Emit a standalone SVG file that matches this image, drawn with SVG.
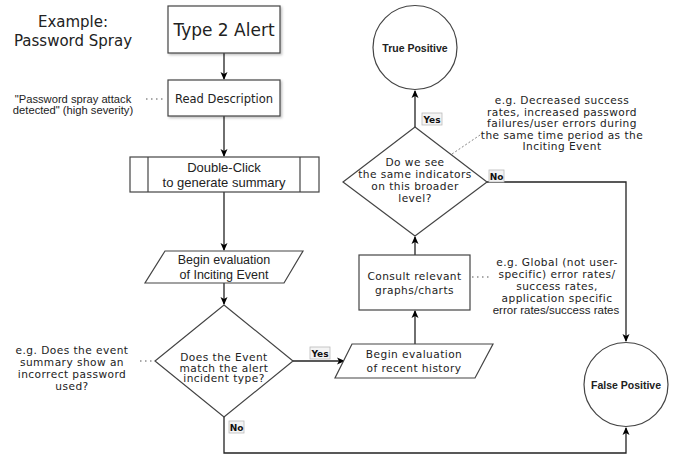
<svg xmlns="http://www.w3.org/2000/svg" width="675" height="460" viewBox="0 0 675 460">
<defs>
<marker id="ah" markerWidth="8" markerHeight="8" refX="7" refY="4" orient="auto" markerUnits="userSpaceOnUse">
<path d="M0,0.5 L8,4 L0,7.5 L2,4 Z" fill="#000"/>
</marker>
<filter id="sh" x="-10%" y="-10%" width="130%" height="130%">
<feDropShadow dx="1.5" dy="1.5" stdDeviation="1" flood-color="#000" flood-opacity="0.25"/>
</filter>
</defs>
<style>
.n{fill:#fff;stroke:#444;stroke-width:1.2}
.v{font-family:"DejaVu Sans",Verdana,sans-serif;fill:#222}
.nt{font-family:"DejaVu Sans",Verdana,sans-serif;fill:#222;font-size:10.6px;letter-spacing:0.45px}
.a{font-family:"Liberation Sans",Arial,sans-serif;fill:#222}
.c{stroke:#222;stroke-width:1.3;fill:none}
.lb{fill:#f4f4f4;stroke:#bbb;stroke-width:0.8}
.lt{font-family:"DejaVu Sans",Verdana,sans-serif;font-size:9px;font-weight:bold;fill:#111}
.dot{stroke:#555;stroke-width:1.2;stroke-dasharray:1.5 3.5;fill:none}
</style>
<rect width="675" height="460" fill="#fff"/>

<g id="title">
<text class="v" x="73" y="27" font-size="15" text-anchor="middle">Example:</text>
<text class="v" x="73" y="46" font-size="15" text-anchor="middle">Password Spray</text>
</g>

<g id="connectors">
<line class="c" x1="224" y1="53" x2="224" y2="79" marker-end="url(#ah)"/>
<line class="c" x1="224" y1="116" x2="224" y2="156" marker-end="url(#ah)"/>
<line class="c" x1="224" y1="192" x2="224" y2="250" marker-end="url(#ah)"/>
<line class="c" x1="224" y1="283" x2="224" y2="304" marker-end="url(#ah)"/>
<line class="c" x1="293" y1="361" x2="344" y2="361" marker-end="url(#ah)"/>
<line class="c" x1="415" y1="344" x2="415" y2="311" marker-end="url(#ah)"/>
<line class="c" x1="415" y1="255" x2="415" y2="237" marker-end="url(#ah)"/>
<line class="c" x1="415" y1="127" x2="415" y2="91" marker-end="url(#ah)"/>
<polyline class="c" points="487,182 626,182 626,341" marker-end="url(#ah)"/>
<polyline class="c" points="224,417 224,453 626,453 626,428" marker-end="url(#ah)"/>
<line class="dot" x1="146" y1="99" x2="164" y2="99"/>
<line class="dot" x1="140" y1="361" x2="154" y2="361"/>
<line class="dot" x1="472" y1="277" x2="490" y2="277"/>
<line stroke="#777" stroke-width="0.9" stroke-dasharray="2 2" x1="452" y1="154" x2="483" y2="133"/>
<rect class="lb" x="310" y="347" width="20" height="12"/>
<text class="lt" x="320" y="356.5" text-anchor="middle">Yes</text>
<rect class="lb" x="229" y="421" width="15" height="12"/>
<text class="lt" x="236.5" y="430.5" text-anchor="middle">No</text>
<rect class="lb" x="422" y="113" width="20" height="12"/>
<text class="lt" x="432" y="122.5" text-anchor="middle">Yes</text>
<rect class="lb" x="489" y="170" width="15" height="12"/>
<text class="lt" x="496.5" y="179.5" text-anchor="middle">No</text>
</g>

<g id="alert">
<rect class="n" x="168" y="6" width="112" height="47" filter="url(#sh)"/>
<text class="v" x="224" y="36" font-size="17" text-anchor="middle">Type 2 Alert</text>
</g>

<g id="read">
<rect class="n" x="168" y="80" width="112" height="36" filter="url(#sh)"/>
<text class="v" x="224" y="102.5" font-size="11.5" text-anchor="middle">Read Description</text>
</g>
<g id="note-read">
<text class="a" x="73" y="102.5" font-size="11.2" text-anchor="middle">"Password spray attack</text>
<text class="a" x="73" y="113.5" font-size="11.2" text-anchor="middle">detected" (high severity)</text>
</g>

<g id="doubleclick">
<rect class="n" x="130" y="157" width="189" height="35"/>
<line class="n" x1="148" y1="157" x2="148" y2="192"/>
<line class="n" x1="300" y1="157" x2="300" y2="192"/>
<text class="a" x="224" y="172" font-size="13" text-anchor="middle">Double-Click</text>
<text class="a" x="224" y="186.5" font-size="13" text-anchor="middle">to generate summary</text>
</g>

<g id="begin-inciting">
<polygon class="n" points="165,251 303,251 284,283 145,283"/>
<text class="a" x="224" y="264" font-size="12.5" text-anchor="middle">Begin evaluation</text>
<text class="a" x="224" y="279" font-size="12.5" text-anchor="middle">of Inciting Event</text>
</g>

<g id="match">
<polygon class="n" points="224,305 293,361 224,417 155,361"/>
<text class="nt" x="224" y="361" text-anchor="middle">Does the Event</text>
<text class="nt" x="224" y="371.5" text-anchor="middle">match the alert</text>
<text class="nt" x="224" y="382" text-anchor="middle">incident type?</text>
</g>
<g id="note-match">
<text class="nt" x="72" y="354" text-anchor="middle">e.g. Does the event</text>
<text class="nt" x="72" y="366" text-anchor="middle">summary show an</text>
<text class="nt" x="72" y="378" text-anchor="middle">incorrect password</text>
<text class="nt" x="72" y="390" text-anchor="middle">used?</text>
</g>

<g id="begin-history">
<polygon class="n" points="352,344 493,344 475,378 335,378"/>
<text class="nt" x="414" y="358" text-anchor="middle" font-size="11">Begin evaluation</text>
<text class="nt" x="414" y="371.5" text-anchor="middle" font-size="11">of recent history</text>
</g>

<g id="consult">
<rect class="n" x="359" y="255" width="111" height="55"/>
<text class="nt" x="414.5" y="280" text-anchor="middle" font-size="11">Consult relevant</text>
<text class="nt" x="414.5" y="294" text-anchor="middle" font-size="11">graphs/charts</text>
</g>
<g id="note-consult">
<text class="nt" x="557" y="266" text-anchor="middle">e.g. Global (not user-</text>
<text class="nt" x="557" y="278" text-anchor="middle">specific) error rates/</text>
<text class="nt" x="557" y="290" text-anchor="middle">success rates,</text>
<text class="nt" x="557" y="302" text-anchor="middle">application specific</text>
<text class="a" x="556" y="313.5" font-size="11.5" text-anchor="middle">error rates/success rates</text>
</g>

<g id="indicators">
<polygon class="n" points="415,127 487,182 415,236 343,182"/>
<text class="nt" x="415" y="166" text-anchor="middle">Do we see</text>
<text class="nt" x="415" y="178" text-anchor="middle">the same indicators</text>
<text class="nt" x="415" y="190" text-anchor="middle">on this broader</text>
<text class="nt" x="415" y="202" text-anchor="middle">level?</text>
</g>
<g id="note-indicators">
<text class="nt" x="562" y="104" text-anchor="middle">e.g. Decreased success</text>
<text class="nt" x="562" y="115.5" text-anchor="middle">rates, increased password</text>
<text class="nt" x="562" y="127" text-anchor="middle">failures/user errors during</text>
<text class="nt" x="562" y="138.5" text-anchor="middle">the same time period as the</text>
<text class="nt" x="562" y="150" text-anchor="middle">Inciting Event</text>
</g>

<g id="true-positive">
<circle class="n" cx="415" cy="47.5" r="42"/>
<text class="a" x="415" y="52" font-size="10.5" font-weight="bold" text-anchor="middle">True Positive</text>
</g>

<g id="false-positive">
<circle class="n" cx="626" cy="384.5" r="42"/>
<text class="a" x="626" y="389" font-size="10.5" font-weight="bold" text-anchor="middle">False Positive</text>
</g>
</svg>
